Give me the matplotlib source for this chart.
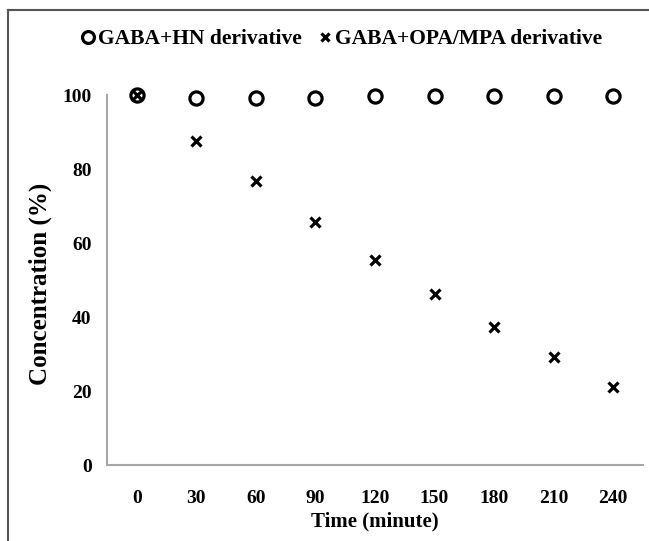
import matplotlib
matplotlib.use("Agg")
import matplotlib.pyplot as plt
from matplotlib.lines import Line2D

# data
times = ["0", "30", "60", "90", "120", "150", "180", "210", "240"]
hn_conc = [100, 99.2, 99.2, 99.2, 99.7, 99.7, 99.7, 99.7, 99.7]
opa_conc = [100, 87.6, 76.8, 65.8, 55.4, 46.2, 37.4, 29.1, 21.2]
y_ticks = [0, 20, 40, 60, 80, 100]

plt.rcParams['font.family'] = ['Liberation Serif', 'DejaVu Serif']
plt.rcParams['font.weight'] = 'bold'

fig = plt.figure(figsize=(6.49, 5.41), dpi=100)
ax = fig.add_axes([107 / 649, 76 / 541, 536 / 649, 370 / 541])

x = list(range(len(times)))
ax.plot(x, hn_conc, linestyle='none', marker='o', markersize=9.5,
        markerfacecolor='none', markeredgecolor='black', markeredgewidth=2.3,
        clip_on=False, label="GABA+HN derivative")
ax.plot(x, opa_conc, linestyle='none', marker='x', markersize=7,
        color='black', markeredgewidth=2.3,
        clip_on=False, label="GABA+OPA/MPA derivative")

ax.set_xlim(-0.5, len(times) - 0.5)
ax.set_ylim(0, 100)
ax.set_xticks(x)
ax.set_xticklabels(times)
ax.set_yticks(y_ticks)
ax.tick_params(length=0, labelsize=14)
ax.tick_params(axis='x', pad=18)
ax.tick_params(axis='y', pad=11)
for s in ['top', 'right']:
    ax.spines[s].set_visible(False)
for s in ['left', 'bottom']:
    ax.spines[s].set_color('#a6a6a6')
    ax.spines[s].set_linewidth(1.5)

ax.set_xlabel("Time (minute)", fontsize=15, fontweight='bold', labelpad=3)
ax.set_ylabel("Concentration (%)", fontsize=18, fontweight='bold')
ax.yaxis.set_label_coords(-0.103, 0.49)

fig.legend(loc='center', bbox_to_anchor=(0.525, 1 - 39 / 541), ncol=2,
           frameon=False, fontsize=15.5, handletextpad=0.05, columnspacing=0.7,
           handlelength=0.8, markerscale=0.9)

# thin frame on the top and left edges of the image
fig.add_artist(Line2D([8 / 649, 8 / 649], [0, 1 - 10 / 541], transform=fig.transFigure,
                      color='#555555', linewidth=1.5))
fig.add_artist(Line2D([8 / 649, 1], [1 - 10 / 541, 1 - 10 / 541], transform=fig.transFigure,
                      color='#555555', linewidth=1.5))

fig.savefig("out.png", dpi=100)
